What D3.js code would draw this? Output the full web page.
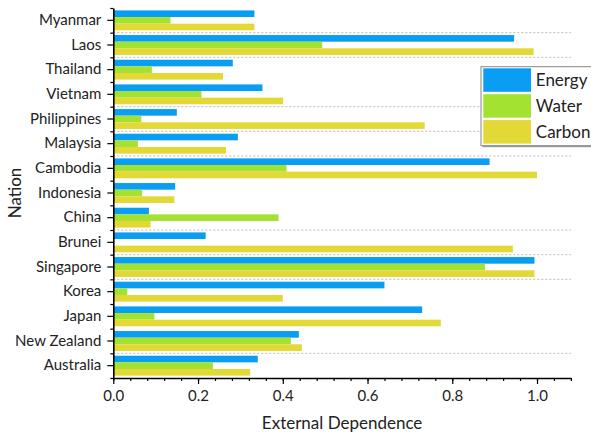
<!DOCTYPE html>
<html lang="en">
<head>
  <meta charset="UTF-8">
  <script src="https://d3js.org/d3.v7.min.js"></script>
  <title>External Dependence</title>
  <style>
    body { margin: 0; background: #fff; }
    text { font-family: Lato, "Open Sans", sans-serif; fill: #222; }
  </style>
</head>
<body>
  <script>
    // data
    var nations = ['Myanmar', 'Laos', 'Thailand', 'Vietnam', 'Philippines', 'Malaysia', 'Cambodia',
      'Indonesia', 'China', 'Brunei', 'Singapore', 'Korea', 'Japan', 'New Zealand', 'Australia'];
    var energy = [0.333, 0.946, 0.282, 0.352, 0.150, 0.294, 0.888, 0.146, 0.084, 0.218, 0.994, 0.640, 0.729, 0.438, 0.341];
    var water  = [0.135, 0.493, 0.091, 0.208, 0.066, 0.058, 0.409, 0.068, 0.390, 0.000, 0.877, 0.033, 0.097, 0.419, 0.235];
    var carbon = [0.333, 0.992, 0.259, 0.401, 0.735, 0.266, 1.000, 0.144, 0.088, 0.943, 0.994, 0.400, 0.773, 0.445, 0.323];
    var seriesNames = ['Energy', 'Water', 'Carbon'];
    var xTicks = [0, 0.2, 0.4, 0.6, 0.8, 1.0];
    // dotted separators are drawn only below these rows in the original
    var gridBelow = ['Myanmar', 'Laos', 'Vietnam', 'Philippines', 'Malaysia', 'China', 'Brunei', 'Singapore', 'New Zealand'];

    var data = nations.map(function(n, i) {
      return {nation: n, Energy: energy[i], Water: water[i], Carbon: carbon[i]};
    });

    var W = 591, H = 435;
    var plotL = 113.3, plotR = 570.9, plotT = 8, plotB = 378;

    var svg = d3.select('body').append('svg')
      .attr('width', W).attr('height', H);

    var color = d3.scaleOrdinal()
      .domain(seriesNames)
      .range(['#0a9ef2', '#a3e230', '#e2d836']);

    var x = d3.scaleLinear().domain([0, 1.08]).range([plotL, plotR]);
    var y = d3.scaleBand().domain(nations).range([plotT, plotB]);
    var y1 = d3.scaleBand().domain(seriesNames).range([0, y.bandwidth()]).paddingOuter(0.36);

    // dotted separators
    svg.append('g')
      .selectAll('line')
      .data(gridBelow)
      .enter().append('line')
        .attr('x1', plotL).attr('x2', plotR)
        .attr('y1', function(d) { return y(d) + y.bandwidth(); })
        .attr('y2', function(d) { return y(d) + y.bandwidth(); })
        .attr('stroke', '#bbb')
        .attr('stroke-width', 1)
        .attr('stroke-dasharray', '2,2');

    // bars
    svg.append('g')
      .selectAll('g')
      .data(data)
      .enter().append('g')
        .attr('transform', function(d) { return 'translate(0,' + y(d.nation) + ')'; })
      .selectAll('rect')
      .data(function(d) { return seriesNames.map(function(k) { return {key: k, value: d[k]}; }); })
      .enter().append('rect')
        .attr('x', x(0))
        .attr('y', function(d) { return y1(d.key); })
        .attr('width', function(d) { return x(d.value) - x(0); })
        .attr('height', y1.bandwidth())
        .attr('fill', function(d) { return color(d.key); });

    // x axis, major + minor
    var xMinor = d3.range(0, 1.0801, 0.04);
    svg.append('g')
      .attr('transform', 'translate(0,' + plotB + ')')
      .call(d3.axisBottom(x).tickValues(xMinor).tickSize(3).tickFormat('').tickSizeOuter(0))
      .call(function(g) { g.selectAll('line').attr('stroke', '#000').attr('stroke-width', 1.2); });
    var xAxis = svg.append('g')
      .attr('transform', 'translate(0,' + plotB + ')')
      .call(d3.axisBottom(x).tickValues(xTicks).tickSize(6).tickPadding(6)
        .tickFormat(d3.format('.1f')).tickSizeOuter(0));
    xAxis.select('.domain').attr('stroke', '#000').attr('stroke-width', 1.6);
    xAxis.selectAll('line').attr('stroke', '#000').attr('stroke-width', 1.2);
    xAxis.selectAll('text').style('font-size', '15px').style('font-family', 'Lato, sans-serif').attr('fill', '#222');

    // y axis, major + minor
    var yMinor = d3.scaleLinear().domain([0, nations.length]).range([plotT, plotB]);
    svg.append('g')
      .attr('transform', 'translate(' + plotL + ',0)')
      .call(d3.axisLeft(yMinor).tickValues(d3.range(0, nations.length + 1)).tickSize(3).tickFormat('').tickSizeOuter(0))
      .call(function(g) {
        g.select('.domain').remove();
        g.selectAll('line').attr('stroke', '#000').attr('stroke-width', 1.2);
      });
    var yAxis = svg.append('g')
      .attr('transform', 'translate(' + plotL + ',0)')
      .call(d3.axisLeft(y).tickSize(6).tickPadding(6).tickSizeOuter(0));
    yAxis.select('.domain').attr('stroke', '#000').attr('stroke-width', 1.6);
    yAxis.selectAll('line').attr('stroke', '#000').attr('stroke-width', 1.2);
    yAxis.selectAll('text').style('font-size', '15px').style('font-family', 'Lato, sans-serif').attr('fill', '#222');

    // axis titles
    svg.append('text')
      .attr('x', (plotL + plotR) / 2)
      .attr('y', 429)
      .attr('text-anchor', 'middle')
      .style('font-size', '17px')
      .text('External Dependence');
    svg.append('text')
      .attr('transform', 'translate(21,' + (plotT + plotB) / 2 + ') rotate(-90)')
      .attr('text-anchor', 'middle')
      .style('font-size', '17px')
      .text('Nation');

    // legend
    var lg = svg.append('g').attr('transform', 'translate(481,66.7)');
    lg.append('rect')
      .attr('x', 1.5).attr('y', 1.5).attr('width', 130).attr('height', 79)
      .attr('fill', '#999');
    lg.append('rect')
      .attr('width', 130).attr('height', 79)
      .attr('fill', '#fff').attr('stroke', '#888').attr('stroke-width', 1);
    var li = lg.selectAll('g.item')
      .data(seriesNames)
      .enter().append('g')
        .attr('class', 'item')
        .attr('transform', function(d, i) { return 'translate(2.3,' + (1.6 + i * 25.9) + ')'; });
    li.append('rect')
      .attr('width', 47.7).attr('height', 23.5)
      .attr('fill', function(d) { return color(d); });
    li.append('text')
      .attr('x', 52.5).attr('y', 12)
      .attr('dy', '0.36em')
      .style('font-size', '17px')
      .text(function(d) { return d; });
  </script>
</body>
</html>
